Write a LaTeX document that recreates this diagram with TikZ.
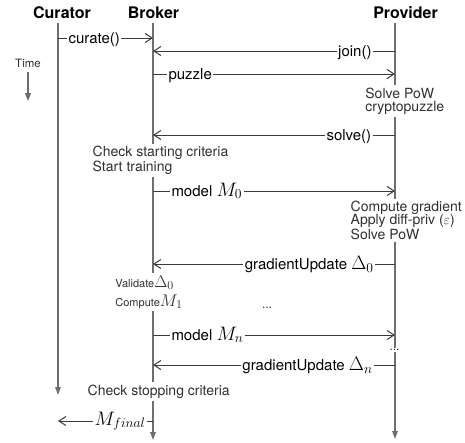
\RequirePackage{fix-cm}
\documentclass[tikz,border=0pt]{standalone}
\usepackage[no-math]{fontspec}
\setmainfont{TeX Gyre Heros}
\usetikzlibrary{arrows.meta}

\definecolor{lifegray}{HTML}{6E6E6E}
\definecolor{msggray}{HTML}{3A3A3A}
\definecolor{notegray}{HTML}{303030}

% math set at a larger size than the surrounding text
\newcommand\mathlarge[1]{{\fontsize{19.5}{19.5}\selectfont$#1$}}
\newcommand\mathmed[1]{{\fontsize{17}{17}\selectfont$#1$}}

\begin{document}
\begin{tikzpicture}[x=1pt,y=-1pt,
  head/.style={font=\fontsize{16}{18}\selectfont\bfseries,inner sep=0pt},
  lifeline/.style={draw=lifegray,line width=1.3pt},
  lifeend/.style={lifeline,-{Triangle[length=8pt,width=5.5pt]}},
  msg/.style={draw=msggray,line width=1pt,-{Straight Barb[length=7pt,width=9pt]}},
  lbl/.style={font=\fontsize{15}{17}\selectfont,fill=white,inner sep=1.5pt,text=black},
  note/.style={font=\fontsize{14}{13.4}\selectfont,fill=white,inner sep=2.5pt,
    text=notegray,align=left},
  smallnote/.style={note,font=\fontsize{11}{19}\selectfont},
  timelbl/.style={font=\fontsize{11.5}{13}\selectfont,text=notegray,inner sep=0pt}]
\useasboundingbox (0,0) rectangle (465,442);

% participants
\node[head,anchor=base] (cur) at (62,18) {Curator};
\node[head,anchor=base] (bro) at (153.5,18) {Broker};
\node[head,anchor=base] (pro) at (405.5,18) {Provider};

% lifelines
\coordinate (curTop) at (58,23);  \coordinate (curEnd) at (58,395);
\coordinate (broTop) at (153,23); \coordinate (broEnd) at (153,440);
\coordinate (proTop) at (395,23); \coordinate (proEnd) at (395,439);
\draw[lifeend] (curTop) -- (curEnd);
\draw[lifeend] (broTop) -- (broEnd);
\draw[lifeend] (proTop) -- (proEnd);

% time axis
\node[timelbl,anchor=base] (time) at (28,67) {Time};
\coordinate (timeTop) at (28,72);
\coordinate (timeEnd) at (28,101);
\draw[lifeline,line width=1.2pt,-{Triangle[length=8pt,width=6pt]}] (timeTop) -- (timeEnd);

% local actions on the lifelines (base = baseline of the last line)
\node[note,anchor=base west] (n1) at (362.7,111.5) {Solve PoW\\cryptopuzzle};
\node[note,anchor=base west] (n2) at (90,171.5) {Check starting criteria\\Start training};
\node[note,anchor=base west] (n3) at (348,239.5) {Compute gradient\\Apply diff-priv ($\varepsilon$)\\Solve PoW};
\node[smallnote,anchor=base west] (n4) at (112.7,306) {Validate\mathmed{\Delta_0}\\Compute\mathmed{M_1}};
\node[note,anchor=base west] (n5) at (85,395) {Check stopping criteria};
\node[note,font=\fontsize{12}{12}\selectfont,inner sep=1pt] (d1) at (267,308) {...};
\node[note,font=\fontsize{12}{12}\selectfont,inner sep=1pt] (d2) at (394.5,350) {...};

% messages
\coordinate (c1) at (58,38);   \coordinate (b1) at (153,38);
\draw[msg] (c1) -- (b1) node[lbl,at start,anchor=base west,xshift=8.5pt,yshift=-5pt] (l1) {curate()};

\coordinate (p2) at (395,51);  \coordinate (b2) at (153,51);
\draw[msg] (p2) -- (b2) node[lbl,at start,anchor=base east,xshift=-21.5pt,yshift=-5pt] (l2) {join()};

\coordinate (b3) at (153,74);  \coordinate (p3) at (395,74);
\draw[msg] (b3) -- (p3) node[lbl,at start,anchor=base west,xshift=13.5pt,yshift=-5pt] (l3) {puzzle};

\coordinate (p4) at (395,135); \coordinate (b4) at (153,135);
\draw[msg] (p4) -- (b4) node[lbl,at start,anchor=base east,xshift=-21.8pt,yshift=-5pt] (l4) {solve()};

\coordinate (b5) at (153,191); \coordinate (p5) at (395,191);
\draw[msg] (b5) -- (p5) node[lbl,at start,anchor=base west,xshift=16.5pt,yshift=-5pt] (l5) {model \mathlarge{M_0}};

\coordinate (p6) at (395,264); \coordinate (b6) at (153,264);
\draw[msg] (p6) -- (b6) node[lbl,at start,anchor=base east,xshift=-19.5pt,yshift=-5.5pt] (l6) {gradientUpdate \mathlarge{\Delta_0}};

\coordinate (b7) at (153,335); \coordinate (p7) at (395,335);
\draw[msg] (b7) -- (p7) node[lbl,at start,anchor=base west,xshift=16.5pt,yshift=-5pt] (l7) {model \mathlarge{M_n}};

\coordinate (p8) at (395,365); \coordinate (b8) at (153,365);
\draw[msg] (p8) -- (b8) node[lbl,at start,anchor=base east,xshift=-20.5pt,yshift=-5.5pt] (l8) {gradientUpdate \mathlarge{\Delta_n}};

\coordinate (b9) at (153,421); \coordinate (c9) at (58,421);
\draw[msg] (b9) -- (c9) node[lbl,at start,anchor=base east,xshift=-5.5pt,yshift=-4pt] (l9) {\mathlarge{M_{final}}};
\end{tikzpicture}
\end{document}
